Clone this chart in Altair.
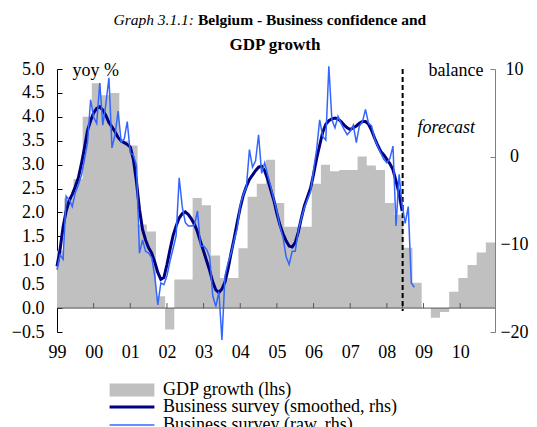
import altair as alt
import pandas as pd

# ---------------- data ----------------
title_italic = "Graph 3.1.1:"
title_bold = "Belgium - Business confidence and"
title_line2 = "GDP growth"
left_title = "yoy %"
right_title = "balance"
forecast_label = ["forecast"]
series_names = ["GDP growth (lhs)", "Business survey (smoothed, rhs)", "Business survey (raw, rhs)"]

year_ticks = list(range(1999, 2011))
inner_year_ticks = list(range(2000, 2011))
left_ticks = [-0.5, 0.0, 0.5, 1.0, 1.5, 2.0, 2.5, 3.0, 3.5, 4.0, 4.5, 5.0]
right_ticks = [-20, -10, 0, 10]
x_domain = [1999.0, 2010.95]
left_domain = [-0.5, 5.0]
right_domain = [-20, 10]

forecast_start = [2008.43]
forecast_top = [5.0]
forecast_bottom = [-0.06]
forecast_x = [2009.62]
forecast_y = [3.77]

# GDP growth, yoy %, quarterly 1999Q1 .. 2010Q4 (lhs)
gdp_first_quarter = 1998.95
gdp_q = [1.2, 2.3, 2.7, 4.0,
         4.7, 4.45, 4.5, 3.5,
         3.4, 1.75, 1.6, 0.25,
         -0.45, 0.6, 0.6, 2.3,
         2.15, 1.1, 0.63, 0.63,
         1.25, 2.33, 2.6, 3.1,
         2.2, 1.7, 1.7, 1.7,
         2.6, 3.0, 2.86, 2.89,
         2.89, 3.17, 2.98, 2.89,
         2.2, 1.95, 1.26, 0.53,
         0.0, -0.2, -0.08, 0.34,
         0.63, 0.9, 1.16, 1.37]

# Business survey balance, monthly from Jan 1999 (rhs)
survey_first_month = 1999.0
smoothed = [-12.5, -10.6, -8.0, -6.2, -5.0, -4.3, -3.4, -2.4, -0.8, 1.0, 3.0, 4.1,
            5.0, 5.5, 5.7, 5.3, 4.7, 3.9, 3.4, 2.85, 2.2, 1.8, 1.6, 1.4,
            1.1, -0.3, -2.8, -6.0, -8.3, -9.5, -10.4, -11.0, -12.0, -13.2, -14.0, -13.8,
            -12.3, -10.6, -9.0, -7.9, -7.0, -6.5, -6.3, -6.6, -7.1, -7.7, -8.6, -9.7,
            -10.8, -11.9, -13.0, -14.3, -15.2, -15.5, -15.1, -14.3, -12.8, -11.0, -9.3, -7.5,
            -5.8, -4.4, -3.4, -2.6, -2.1, -1.6, -1.2, -1.1, -1.6, -2.6, -3.8, -5.0,
            -6.5, -7.8, -8.8, -9.6, -10.2, -10.3, -9.8, -8.6, -7.0, -5.6, -4.6, -3.6,
            -2.0, -0.2, 1.3, 2.8, 3.7, 4.1, 4.3, 4.4, 4.3, 4.0, 3.6, 3.3,
            3.1, 3.3, 3.5, 3.8, 4.0, 4.0, 3.7, 3.0, 2.1, 1.3, 0.6, 0.2,
            -0.3, -0.8, -1.5, -2.8, -4.2, -6.2]
raw = [-12.9, -11.2, -11.7, -4.5, -4.9, -5.7, -4.1, -3.2, -2.1, -0.3, 1.6, 6.5,
       4.5, 3.8, 8.4, 3.6, 6.0, 9.0, 1.0, 2.5, 5.2, 1.7, 2.0, 4.0,
       0.4, 0.2, -1.0, -11.0, -9.5, -10.8, -11.0, -11.5, -13.6, -16.9, -14.4, -14.6,
       -13.6, -11.9, -10.5, -9.0, -2.4, -5.7, -7.5, -7.9, -7.9, -7.8, -6.2, -10.2,
       -10.2, -10.6, -11.5, -15.9, -17.1, -15.4, -20.9, -13.6, -12.1, -11.0, -9.5, -8.2,
       -5.5, -4.3, -3.5, 0.8, -1.2, -0.5, 2.5, -1.9, -0.7, -2.1, -3.4, -4.9,
       -6.2, -8.0, -9.2, -11.4, -12.3, -10.8, -10.8, -8.5, -7.0, -5.8, -4.9, -4.0,
       -1.5, 0.8, 4.2, 2.3, 1.9, 10.3, 4.2, 3.3, 4.6, 3.8, 3.1, 2.5,
       2.9, 3.6, 1.6, 3.5, 4.0, 5.4, 3.8, 3.5, 2.0, 1.2, 0.4, -0.3,
       -0.7, -0.2, 1.2, -7.9, -2.0, -5.5, -7.6, -5.7, -14.4, -14.9]

# ---------------- tables ----------------
gdp_x = [gdp_first_quarter + i / 4 for i in range(len(gdp_q) + 1)]
gdp_df = pd.DataFrame({"x": gdp_x, "v": gdp_q + [gdp_q[-1]], "s": series_names[0]})
smooth_df = pd.DataFrame({"x": [survey_first_month + i / 12 for i in range(len(smoothed))],
                          "v": smoothed, "s": series_names[1]})
raw_df = pd.DataFrame({"x": [survey_first_month + i / 12 for i in range(len(raw))],
                       "v": raw, "s": series_names[2]})

SERIF = "Liberation Serif"
FS = 18
W, H = 438, 263

xscale = alt.Scale(domain=x_domain, nice=False, zero=False)
xaxis = alt.Axis(values=year_ticks, labelExpr="(datum.value % 100 < 10 ? '0' : '') + (datum.value % 100)",
                 domain=False, ticks=False, grid=False, labelFont=SERIF, labelFontSize=FS,
                 labelColor="black", labelPadding=11, labelFlush=False, labelOverlap=False,
                 title=None)
lscale = alt.Scale(domain=left_domain, nice=False, zero=False)
laxis = alt.Axis(orient="left", values=left_ticks, format=".1f", title=left_title, titleAngle=0,
                 titleAlign="left", titleBaseline="middle", titleX=15, titleY=1, titleFont=SERIF,
                 titleFontSize=FS, titleFontWeight="normal", titleColor="black",
                 labelFont=SERIF, labelFontSize=FS, labelColor="black", grid=False,
                 domainColor="black", tickColor="black", tickSize={"expr": "-5"}, labelPadding=18)
rscale = alt.Scale(domain=right_domain, nice=False, zero=False)
raxis = alt.Axis(orient="right", values=right_ticks, format="d", title=right_title, titleAngle=0,
                 titleAlign="right", titleBaseline="middle", titleX=-12, titleY=1, titleFont=SERIF,
                 titleFontSize=FS, titleFontWeight="normal", titleColor="black",
                 labelFont=SERIF, labelFontSize=FS, labelColor="black", labelAlign="center",
                 grid=False, domainColor="#808080", tickColor="#808080",
                 tickSize={"expr": "-5"}, labelPadding=24)


def X(field="x:Q"):
    return alt.X(field, scale=xscale, axis=xaxis, title=None)


def LY(field="v:Q"):
    return alt.Y(field, scale=lscale, axis=laxis, title=left_title)


def RY(field="v:Q"):
    return alt.Y(field, scale=rscale, axis=raxis, title=right_title)


area = alt.Chart(gdp_df).mark_area(interpolate="step-after", clip=True).encode(
    x=X(), y=LY(), y2=alt.datum(0),
    fill=alt.Fill("s:N", scale=alt.Scale(domain=[series_names[0]], range=["#c0c0c0"]),
                  legend=alt.Legend(orient="none", legendX=66, legendY=312, title=None,
                                    symbolType="M-3.2,-0.93H3.2V0.93H-3.2Z", symbolSize=196,
                                    symbolStrokeWidth=0, labelFont=SERIF, labelFontSize=FS,
                                    labelColor="black", labelOffset=22, padding=0,
                                    rowPadding={"expr": "-1"}, labelLimit=400)),
)

zero_df = pd.DataFrame({"v": [0.0]})
zero_line = alt.Chart(zero_df).mark_rule(color="#555555", strokeWidth=1).encode(y=LY())

ticks_df = pd.DataFrame({"x": inner_year_ticks + forecast_start, "v": 0.0})
year_marks = alt.Chart(ticks_df).mark_point(shape="M0,0L0,-1", size=100, filled=False,
                                            stroke="#555555", strokeWidth=1, opacity=1).encode(
    x=X(), y=LY())

dash_df = pd.DataFrame({"x": forecast_start, "v": forecast_top, "v2": forecast_bottom})
dash = alt.Chart(dash_df).mark_rule(color="black", strokeWidth=2, strokeDash=[5, 3]).encode(
    x=X(), y=LY(), y2="v2:Q")

fc_df = pd.DataFrame({"x": forecast_x, "v": forecast_y, "t": forecast_label})
fc_text = alt.Chart(fc_df).mark_text(font=SERIF, fontSize=FS, fontStyle="italic", color="black",
                                     align="center", baseline="middle").encode(
    x=X(), y=LY(), text="t:N")

left_layer = alt.layer(area, zero_line, year_marks, dash, fc_text)

stroke_scale = alt.Scale(domain=series_names[1:], range=["#000080", "#3366ff"])
sw_scale = alt.Scale(domain=series_names[1:], range=[3, 1.5])
line_legend = alt.Legend(orient="none", legendX=66, legendY=329, title=None,
                         symbolType="M-3.2,0L3.2,0", symbolSize=196,
                         labelFont=SERIF, labelFontSize=FS, labelColor="black", labelOffset=22,
                         padding=0, rowPadding={"expr": "-1"}, labelLimit=400)


def survey_line(df):
    return alt.Chart(df).mark_line().encode(
        x=X(), y=RY(),
        stroke=alt.Stroke("s:N", scale=stroke_scale, legend=line_legend),
        strokeWidth=alt.StrokeWidth("s:N", scale=sw_scale, legend=line_legend),
    )


right_layer = alt.layer(survey_line(smooth_df), survey_line(raw_df))

t1 = alt.Chart(pd.DataFrame({"t": [title_italic]})).mark_text(
    font=SERIF, fontSize=15.5, fontStyle="italic", color="black", align="right", baseline="middle").encode(
    text="t:N", x=alt.value(137), y=alt.value(-49))
t2 = alt.Chart(pd.DataFrame({"t": [title_bold]})).mark_text(
    font=SERIF, fontSize=15.5, fontWeight="bold", color="black", align="left", baseline="middle").encode(
    text="t:N", x=alt.value(141), y=alt.value(-49))
t3 = alt.Chart(pd.DataFrame({"t": [title_line2]})).mark_text(
    font=SERIF, fontSize=17, fontWeight="bold", color="black", align="center", baseline="middle").encode(
    text="t:N", x=alt.value(218), y=alt.value(-24))

chart = alt.layer(left_layer, right_layer, t1, t2, t3).resolve_scale(
    y="independent", stroke="independent", strokeWidth="independent"
).properties(
    width=W, height=H,
    padding={"left": 49, "top": 61, "right": 34, "bottom": 95},
    autosize=alt.AutoSizeParams(type="none"),
).configure_view(stroke=None)

chart.save("out.html", embed_options={"renderer": "svg", "actions": False})
